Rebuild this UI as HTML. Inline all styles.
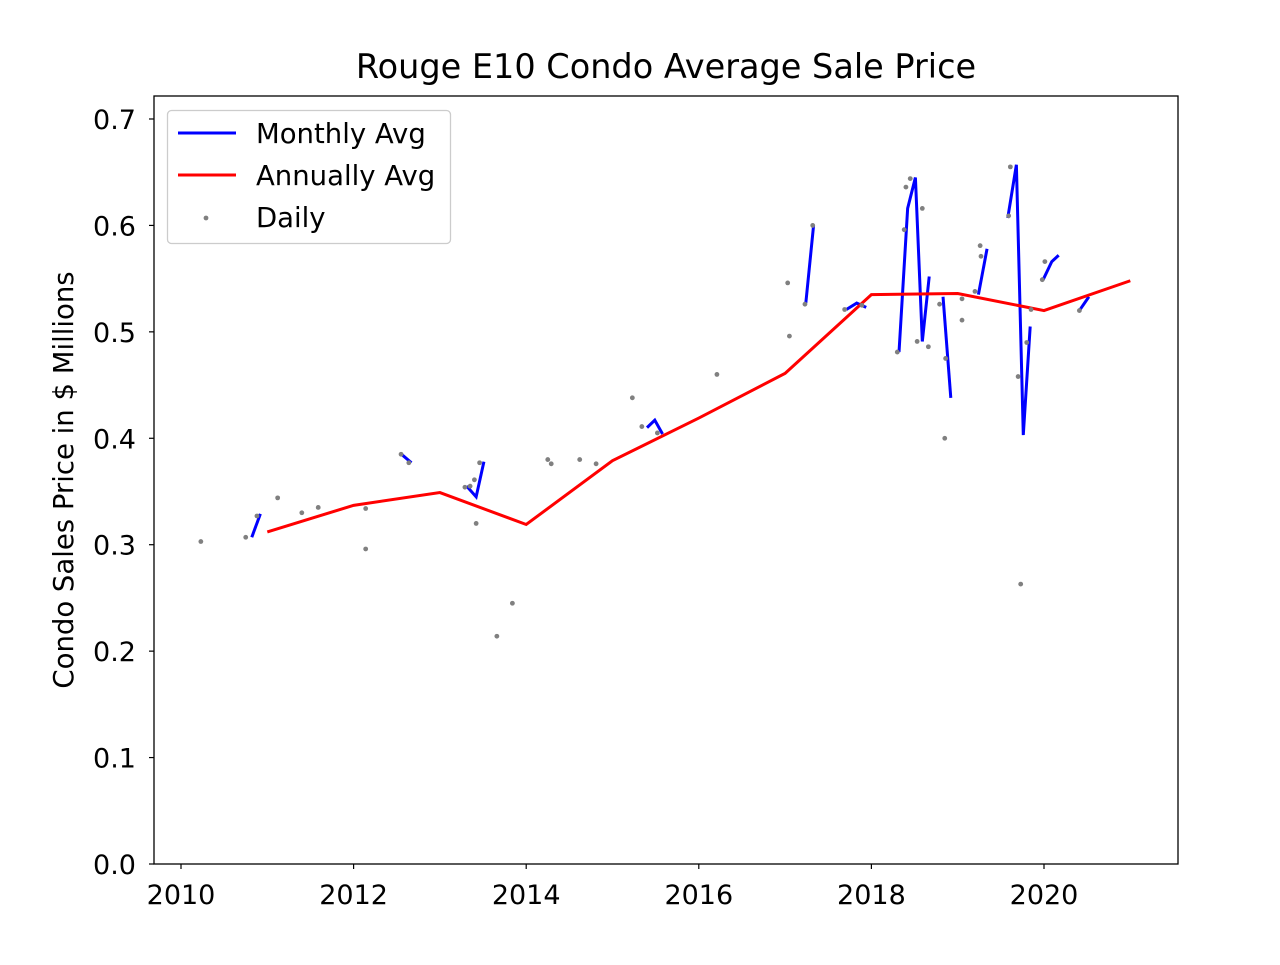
<!DOCTYPE html>
<html><head><meta charset="utf-8"><style>
body{margin:0;background:#fff;}
svg text{font-family:"DejaVu Sans","Liberation Sans",sans-serif;fill:#000;}
</style></head><body>
<svg id="chart" width="1280" height="960" xmlns="http://www.w3.org/2000/svg">
<rect width="1280" height="960" fill="#fff"/>
<text x="666" y="78" font-size="33.5" text-anchor="middle">Rouge E10 Condo Average Sale Price</text>
<text transform="translate(73,480) rotate(-90)" font-size="27.5" text-anchor="middle">Condo Sales Price in $ Millions</text>
<g id="plot"></g>
<rect x="154" y="96" width="1024" height="768" fill="none" stroke="#000" stroke-width="1.3"/>
<g>
<rect x="167.5" y="110.5" width="283" height="133" rx="4" fill="#fff" stroke="#ccc" stroke-width="1.3"/>
<line x1="178" y1="133" x2="236" y2="133" stroke="#0000ff" stroke-width="3"/>
<text x="256" y="143" font-size="27.5">Monthly Avg</text>
<line x1="178" y1="175" x2="236" y2="175" stroke="#ff0000" stroke-width="3"/>
<text x="256" y="185" font-size="27.5">Annually Avg</text>
<circle cx="206" cy="218" r="2.4" fill="#808080"/>
<text x="256" y="227" font-size="27.5">Daily</text>
</g>
</svg>
<script>
const xTicks=[2010,2012,2014,2016,2018,2020];
const yTicks=[0.0,0.1,0.2,0.3,0.4,0.5,0.6,0.7];
const annualYears=[2011,2012,2013,2014,2015,2016,2017,2018,2019,2020,2021];
const annualValues=[0.312,0.337,0.349,0.319,0.379,0.419,0.461,0.535,0.536,0.520,0.548];
const monthlyYears=[[2010.82,2010.92],[2012.54,2012.67],[2013.31,2013.42,2013.51],[2015.40,2015.49,2015.58],[2017.24,2017.33],[2017.71,2017.83,2017.94],[2018.32,2018.42,2018.51,2018.59,2018.67],[2018.83,2018.92],[2019.24,2019.34],[2019.58,2019.68,2019.76,2019.84],[2019.99,2020.09,2020.17],[2020.41,2020.52]];
const monthlyValues=[[0.307,0.329],[0.386,0.377],[0.355,0.345,0.378],[0.410,0.417,0.404],[0.527,0.600],[0.521,0.527,0.523],[0.481,0.616,0.645,0.491,0.552],[0.533,0.438],[0.535,0.578],[0.607,0.657,0.403,0.505],[0.549,0.566,0.572],[0.520,0.533]];
const dailyYears=[2010.23,2010.75,2010.88,2011.12,2011.40,2011.59,2012.14,2012.14,2012.55,2012.64,2013.29,2013.35,2013.40,2013.42,2013.46,2013.66,2013.84,2014.25,2014.29,2014.62,2014.81,2015.23,2015.34,2015.52,2016.21,2017.03,2017.05,2017.23,2017.32,2017.69,2017.89,2018.30,2018.38,2018.40,2018.45,2018.59,2018.53,2018.66,2018.79,2018.85,2018.86,2019.05,2019.05,2019.20,2019.26,2019.27,2019.59,2019.61,2019.70,2019.73,2019.80,2019.85,2019.98,2020.01,2020.41];
const dailyValues=[0.303,0.307,0.327,0.344,0.330,0.335,0.334,0.296,0.385,0.377,0.354,0.355,0.361,0.320,0.377,0.214,0.245,0.380,0.376,0.380,0.376,0.438,0.411,0.405,0.460,0.546,0.496,0.526,0.600,0.521,0.525,0.481,0.596,0.636,0.644,0.616,0.491,0.486,0.526,0.400,0.475,0.511,0.531,0.538,0.581,0.571,0.609,0.655,0.458,0.263,0.490,0.521,0.549,0.566,0.520];

const NS="http://www.w3.org/2000/svg";
const svg=document.getElementById('chart');
const plot=document.getElementById('plot');
function X(v){return 181+(v-2010)*86.3;}
function Y(v){return 864-v*1064.3;}
function mk(tag,attrs,parent){const e=document.createElementNS(NS,tag);for(const k in attrs)e.setAttribute(k,attrs[k]);(parent||plot).appendChild(e);return e;}

xTicks.forEach(t=>{
  const l=mk('line',{x1:X(t),x2:X(t),y1:864,y2:869,stroke:'#000','stroke-width':1.2},svg);
  
  
  const tx=mk('text',{x:X(t),y:904,'font-size':27,'text-anchor':'middle'},svg);
  tx.textContent=t;
  
  
});
yTicks.forEach(t=>{
  const l=mk('line',{x1:149,x2:154,y1:Y(t),y2:Y(t),stroke:'#000','stroke-width':1.2},svg);
  
  
  const tx=mk('text',{x:136,y:Y(t)+10,'font-size':27,'text-anchor':'end'},svg);
  tx.textContent=t.toFixed(1);
  
  
});

monthlyYears.forEach((ys,i)=>{
  const pts=ys.map((y,j)=>X(y)+','+Y(monthlyValues[i][j])).join(' ');
  const p=mk('polyline',{points:pts,fill:'none',stroke:'#0000ff','stroke-width':3,'stroke-linejoin':'miter'});
  
  
});
const ap=mk('polyline',{points:annualYears.map((y,i)=>X(y)+','+Y(annualValues[i])).join(' '),fill:'none',stroke:'#ff0000','stroke-width':3});


dailyYears.forEach((y,i)=>{
  const c=mk('circle',{cx:X(y),cy:Y(dailyValues[i]),r:2.4,fill:'#808080'});
  
  
});
</script>
</body></html>
